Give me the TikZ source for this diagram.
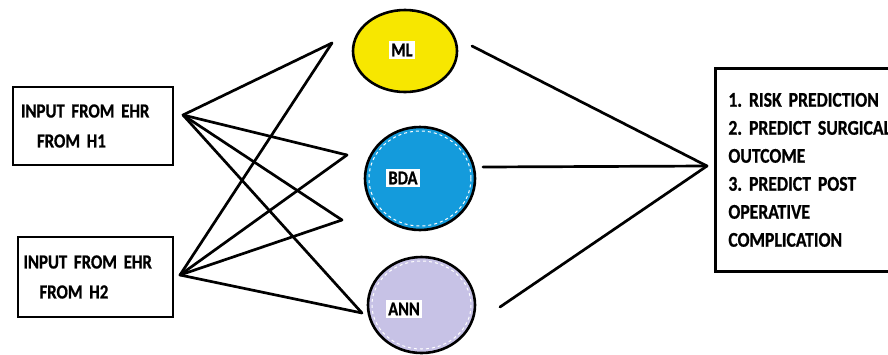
\documentclass[tikz,border=0pt]{standalone}
\usepackage{fontspec}
\setmainfont{Carlito}[FakeStretch = 0.84, WordSpace = 0.75, BoldFeatures = {FakeBold = 0.8}]
\usetikzlibrary{shapes.geometric}
\frenchspacing
\tikzstyle{flowChart} = [x = 1pt, y = -1pt]
\definecolor{mlColor}{RGB}{247,231,0}
\definecolor{bdaColor}{RGB}{20,155,220}
\definecolor{annColor}{RGB}{199,194,230}
\tikzstyle{inputBox} = [draw, line width = 2.8pt, align = left, inner sep = 0pt, text width = 144pt, font = \fontsize{20}{30}\selectfont\bfseries]
\tikzstyle{outputBox} = [draw, line width = 2.8pt, align = left, anchor = north west, inner xsep = 13pt, text width = 200pt, minimum height = 203pt, font = \fontsize{21}{28}\selectfont\bfseries]
\tikzstyle{methodEllipse} = [ellipse, draw, line width = 2.6pt, inner sep = 0pt]
\tikzstyle{methodText} = [fill = white, inner sep = 2.5pt, font = \fontsize{19.5}{20}\selectfont\bfseries]
\tikzstyle{linkLine} = [line width = 2.7pt, line cap = round]
\tikzstyle{rimLine} = [white, dash pattern = on 3pt off 3pt, line width = 1pt]
\newcommand{\dashedRim}[3]{\draw [rimLine] (#1) ellipse [x radius = #2, y radius = #3];}

\begin{document}
\begin{tikzpicture}[flowChart]
          \useasboundingbox (0,0) rectangle (888,354);
          \clip (0,0) rectangle (888,354);

          \node [inputBox, minimum width = 160pt, minimum height = 78pt] (h1) at (93,126) {INPUT FROM EHR\\\hspace*{16pt}FROM H1};
          \node [inputBox, minimum width = 155pt, minimum height = 80pt] (h2) at (95.5,277) {INPUT FROM EHR\\\hspace*{16pt}FROM H2};

          \node [methodEllipse, fill = mlColor, minimum width = 104pt, minimum height = 82pt] (ml) at (405,51) {};
          \node [methodEllipse, fill = bdaColor, minimum width = 110pt, minimum height = 103pt] (bda) at (420,178.5) {};
          \node [methodEllipse, fill = annColor, minimum width = 107pt, minimum height = 96pt] (ann) at (421.5,305) {};
          \dashedRim{bda.center}{51}{47.5}
          \dashedRim{ann.center}{49.5}{44}
          \node [methodText] (mlText) at (402,50) {ML};
          \node [methodText] (bdaText) at (403,178) {BDA};
          \node [methodText] (annText) at (404,309) {ANN};

          \node [outputBox] (result) at (714,67) {1. RISK PREDICTION\\2. PREDICT SURGICAL\\OUTCOME\\3. PREDICT POST\\OPERATIVE\\COMPLICATION};

          \coordinate (h1Tip) at (183,115);
          \coordinate (h2Tip) at (180,275);
          \coordinate (mlIn) at (332,43);
          \coordinate (bdaInA) at (347,155);
          \coordinate (bdaInB) at (342,220);
          \coordinate (annIn) at (362,313);
          \coordinate (mlOut) at (472,46);
          \coordinate (bdaOut) at (483,167);
          \coordinate (annOut) at (500,307);
          \coordinate (hub) at (707,166);

          \foreach \source in {h1Tip,h2Tip} {
            \foreach \target in {mlIn,bdaInA,bdaInB,annIn} {
              \draw [linkLine] (\source) -- (\target);
            }
          }
          \foreach \source in {mlOut,bdaOut,annOut} {
            \draw [linkLine] (\source) -- (hub);
          }
        \end{tikzpicture}
\end{document}
